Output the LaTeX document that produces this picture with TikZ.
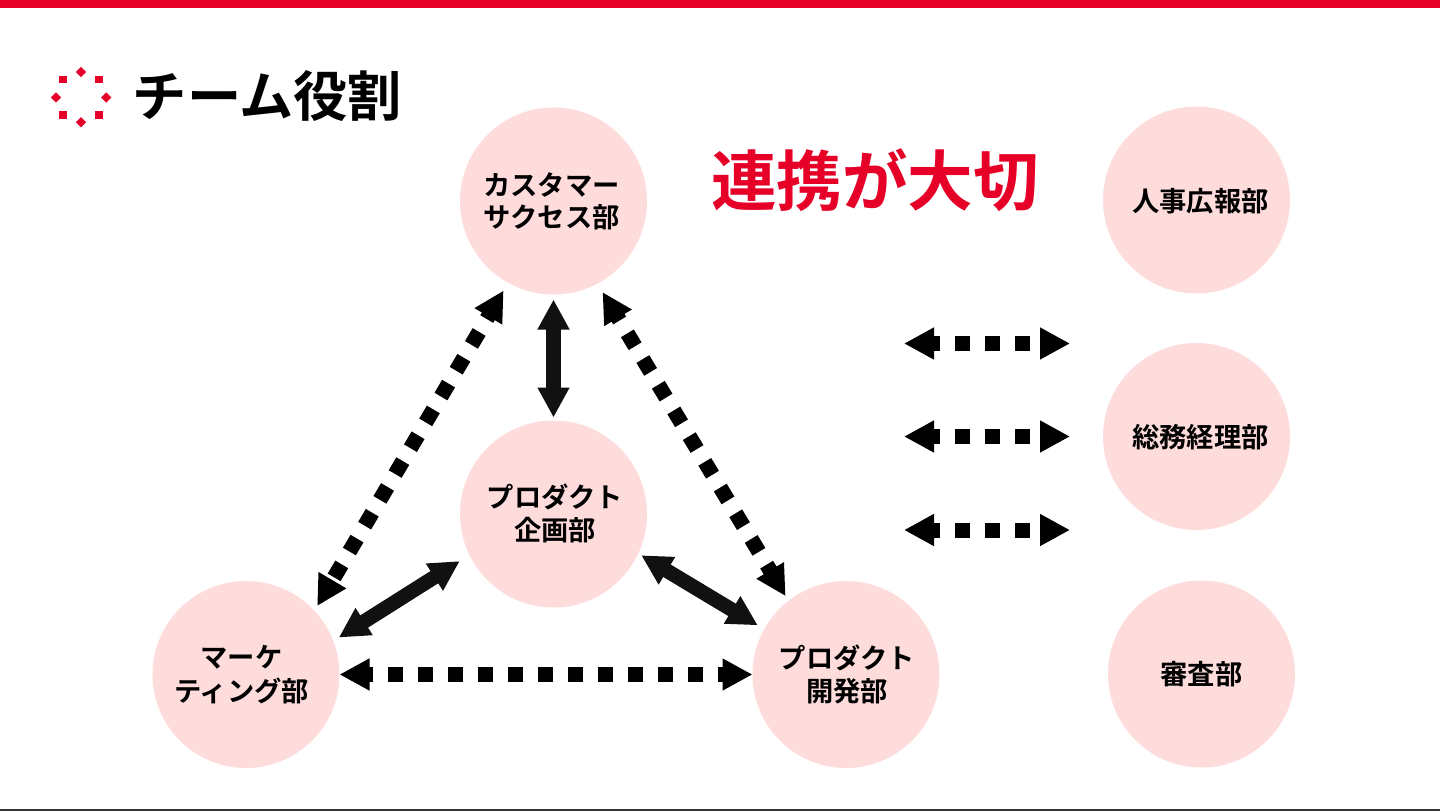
\documentclass[tikz,border=0pt]{standalone}
\usepackage{fontspec}
\setmainfont{Noto Sans CJK JP}[BoldFont={* Bold}]
\usetikzlibrary{arrows.meta}
\definecolor{brandred}{HTML}{E60028}
\definecolor{softpink}{HTML}{FFDCDC}
\definecolor{inkdark}{HTML}{111111}
\newcommand{\shifted}[3]{\raisebox{0pt}[\dimexpr\height+#2\relax][\depth]{\hspace*{#1}\begin{tabular}{@{}c@{}}#3\end{tabular}}}
\tikzset{
  dept/.style={circle,fill=softpink,minimum size=187pt,inner sep=0pt,outer sep=0pt,
    font=\fontsize{27.3}{32.5}\selectfont\bfseries,text=black},
  dotarrow/.style={{Triangle[length=30pt,width=30pt]}-{Triangle[length=30pt,width=30pt]},
    line width=15pt,black,dash pattern=on 15pt off 15pt},
  solidarrow/.style={{Triangle[length=30pt,width=30pt]}-{Triangle[length=30pt,width=30pt]},
    line width=14.5pt,inkdark},
  logosq/.style={fill=brandred,minimum size=7.2pt,inner sep=0pt,outer sep=0pt,rectangle},
  logodia/.style={logosq,rotate=45},
}
\begin{document}
\begin{tikzpicture}[x=1pt,y=-1pt]
\useasboundingbox (0,0) rectangle (1440,811);
\fill[white] (0,0) rectangle (1440,811);
\fill[brandred] (0,0) rectangle (1440,8);
\fill[black!80] (0,809) rectangle (1440,811);
% logo
\node[logodia] (ld1) at (81,72) {};
\node[logodia] (ld2) at (81,122.3) {};
\node[logodia] (ld3) at (56,97.5) {};
\node[logodia] (ld4) at (106.3,97.5) {};
\node[logosq] (ls1) at (63,79.7) {};
\node[logosq] (ls2) at (99,79.7) {};
\node[logosq] (ls3) at (63,115) {};
\node[logosq] (ls4) at (99,115) {};
% titles
\node[font=\fontsize{54.2}{55}\selectfont\bfseries,anchor=center] (title) at (267.5,96) {チーム役割};
\node[font=\fontsize{65.6}{66}\selectfont\bfseries,text=brandred,anchor=center] (slogan) at (875,180) {連携が大切};
% departments
\node[dept] (cust) at (553.5,201) {\shifted{-4pt}{8pt}{カスタマー\\サクセス部}};
\node[dept] (plan) at (553.5,514) {\shifted{3pt}{6pt}{プロダクト\\企画部}};
\node[dept] (mkt) at (246,674.5) {\shifted{-9pt}{7pt}{マーケ\\ティング部}};
\node[dept] (dev) at (846,674.5) {\shifted{2pt}{7pt}{プロダクト\\開発部}};
\node[dept] (hr) at (1196.5,200) {\shifted{8pt}{9pt}{人事広報部}};
\node[dept] (ga) at (1196.5,436.5) {\shifted{8pt}{8pt}{総務経理部}};
\node[dept] (audit) at (1201.5,674) {審査部};
% connectors
\draw[solidarrow,shorten <=5pt,shorten >=3pt] (cust) -- (plan);
\draw[solidarrow,shorten <=6.5pt,shorten >=11.5pt] (mkt.21.8) -- (plan.206.6);
\draw[solidarrow,shorten <=3.5pt,shorten >=7.5pt] (plan.335) -- (dev.151.9);
\draw[dotarrow,dash phase=10pt,shorten <=9pt,shorten >=5.5pt] (cust.241.4) -- (mkt.43.4);
\draw[dotarrow,dash phase=10pt,shorten <=10pt,shorten >=5.5pt] (cust.298.8) -- (dev.128.8);
\draw[dotarrow,dash phase=10pt] (mkt.east) -- (dev.west);
\coordinate (a1l) at (904,343.5);
\coordinate (a1r) at (1070,343.5);
\coordinate (a2l) at (904,436.5);
\coordinate (a2r) at (1070,436.5);
\coordinate (a3l) at (904,530);
\coordinate (a3r) at (1070,530);
\draw[dotarrow,dash phase=7pt] (a1l) -- (a1r);
\draw[dotarrow,dash phase=7pt] (a2l) -- (a2r);
\draw[dotarrow,dash phase=7pt] (a3l) -- (a3r);
\end{tikzpicture}
\end{document}
